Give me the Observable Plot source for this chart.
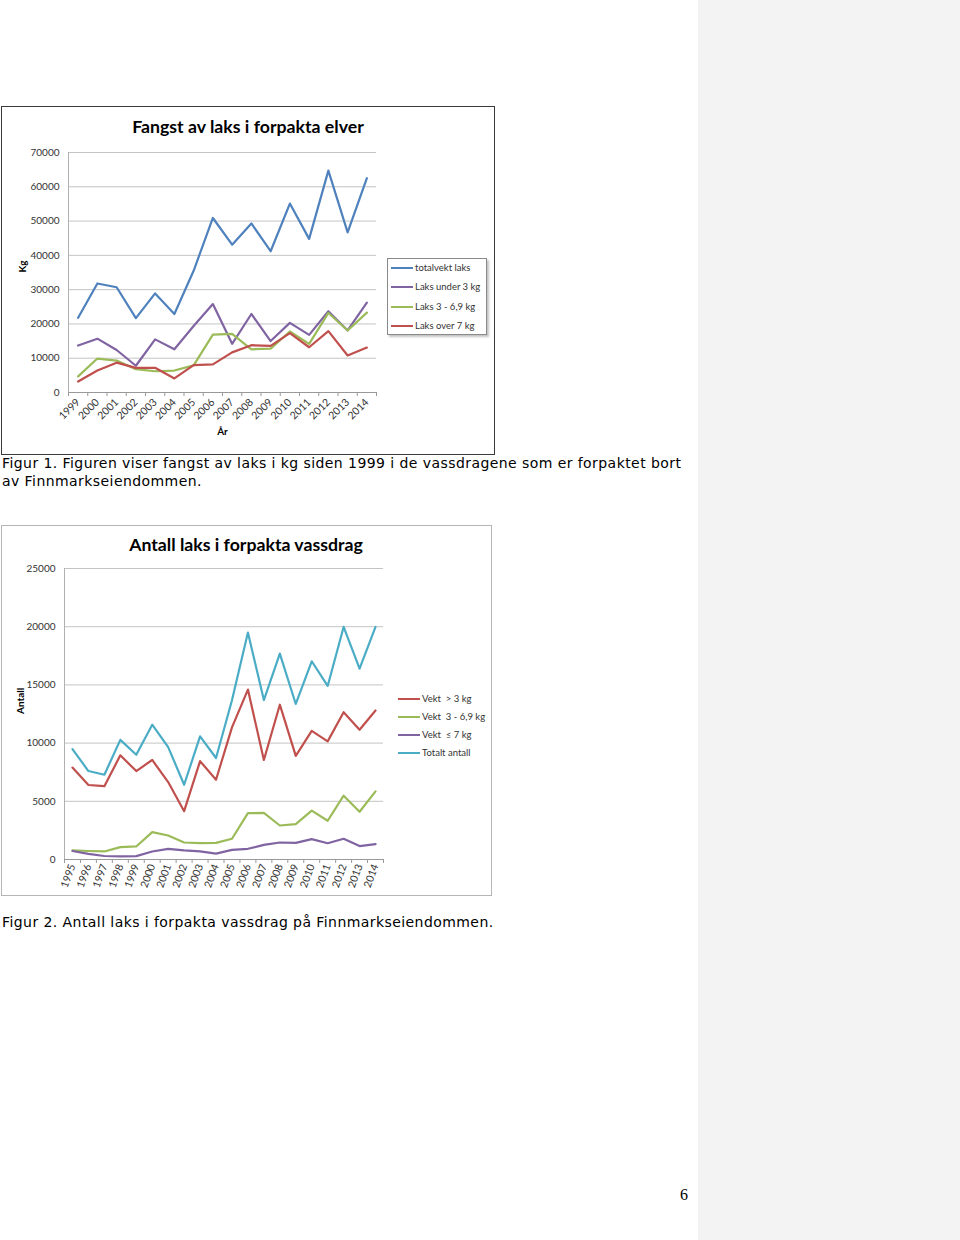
<!DOCTYPE html>
<html><head><meta charset="utf-8">
<script src="https://cdn.jsdelivr.net/npm/d3@7"></script>
<script src="https://cdn.jsdelivr.net/npm/@observablehq/plot@0.6"></script>
<style>
html,body{margin:0;padding:0;background:#fff;}
#page{position:relative;width:960px;height:1240px;overflow:hidden;background:#fff;}
#side{position:absolute;left:698px;top:0;width:262px;height:1240px;background:#f3f3f3;}
.frame{position:absolute;box-sizing:border-box;background:#fff;}
#f1{left:1px;top:106px;width:494px;height:349px;border:1.5px solid #3a3a3a;}
#f2{left:1px;top:525px;width:491px;height:371px;border:1px solid #b5b5b5;}
.ctitle{position:absolute;font-family:Lato,"Open Sans",sans-serif;font-weight:bold;font-size:17.7px;color:#000;white-space:nowrap;transform:translateX(-50%);}
.plot{position:absolute;}
.legend{position:absolute;font-family:Lato,"Open Sans",sans-serif;font-size:9.5px;color:#333;}
.legend .row{position:absolute;white-space:pre;display:flex;align-items:center;}
.legend .sw{display:inline-block;width:22px;height:2px;margin-right:2px;}
#lg1{left:387px;top:258px;width:100px;height:77px;box-sizing:border-box;border:1px solid #8a8a8a;box-shadow:2px 2px 2px #c4c4c4;background:#fff;}
#lg2{left:396px;top:690px;width:92px;height:70px;}
.cap{position:absolute;left:2px;font-family:"DejaVu Sans",Verdana,sans-serif;font-size:14px;letter-spacing:0.43px;color:#000;white-space:nowrap;line-height:17.5px;}
#pgno{position:absolute;left:680px;top:1186px;font-family:"Liberation Serif","DejaVu Serif",serif;font-size:16px;color:#000;}
</style>
</head><body>
<div id="page">
  <div id="side"></div>
  <div class="frame" id="f1"></div>
  <div class="frame" id="f2"></div>
  <div class="ctitle" id="t1" style="left:248px;top:116px;">Fangst av laks i forpakta elver</div>
  <div class="ctitle" id="t2" style="left:246px;top:534px;">Antall laks i forpakta vassdrag</div>
  <div class="plot" id="p1" style="left:2px;top:140px;"></div>
  <div class="plot" id="p2" style="left:2px;top:558px;"></div>
  <div class="legend" id="lg1"></div>
  <div class="legend" id="lg2"></div>
  <div class="cap" style="top:455px;">Figur 1. Figuren viser fangst av laks i kg siden 1999 i de vassdragene som er forpaktet bort<br>av Finnmarkseiendommen.</div>
  <div class="cap" style="top:914px;">Figur 2. Antall laks i forpakta vassdrag på Finnmarkseiendommen.</div>
  <div id="pgno">6</div>
</div>
<script>
// ---- Figur 1 data (kg) ----
const years1 = [1999,2000,2001,2002,2003,2004,2005,2006,2007,2008,2009,2010,2011,2012,2013,2014];
const totalvektLaks = [21800,31800,30700,21700,28900,22900,35500,50900,43100,49300,41200,55100,44800,64700,46700,62500];
const laksUnder3 = [13700,15700,12400,7800,15500,12600,19400,25800,14200,22900,15000,20300,16800,23700,18100,26200];
const laks3til69 = [4700,9900,9300,6800,6200,6400,7900,16900,17100,12600,12800,17800,14200,23200,18100,23300];
const laksOver7 = [3200,6400,8700,7200,7200,4100,8000,8200,11700,13800,13600,17300,13200,17900,10800,13100];
const series1 = ["totalvekt laks","Laks under 3 kg","Laks 3 - 6,9 kg","Laks over 7 kg"];
const colors1 = ["#4F81BD","#8064A2","#9BBB59","#C0504D"];
const yTicks1 = [0,10000,20000,30000,40000,50000,60000,70000];

// ---- Figur 2 data (antall) ----
const years2 = [1995,1996,1997,1998,1999,2000,2001,2002,2003,2004,2005,2006,2007,2008,2009,2010,2011,2012,2013,2014];
const vektOver3 = [7900,6400,6300,8950,7600,8550,6650,4150,8450,6850,11350,14600,8550,13300,8900,11050,10150,12650,11150,12800];
const vekt3til69 = [780,730,690,1060,1120,2350,2060,1460,1400,1430,1780,3980,4000,2920,3040,4200,3330,5480,4100,5850];
const vektMax7 = [730,490,300,260,290,690,920,780,700,500,830,920,1260,1460,1430,1750,1400,1780,1150,1320];
const totaltAntall = [9480,7600,7280,10280,9000,11580,9660,6420,10580,8720,13680,19500,13700,17690,13360,17030,14910,19980,16400,19980];
const series2 = ["Vekt  > 3 kg","Vekt  3 - 6,9 kg","Vekt  \u2264 7 kg","Totalt antall"];
const colors2 = ["#C0504D","#9BBB59","#8064A2","#4BACC6"];
const yTicks2 = [0,5000,10000,15000,20000,25000];

const font = "Lato, 'Open Sans', sans-serif";

function long(arrs, years, names){
  return arrs.flatMap((arr,i)=>arr.map((v,j)=>({year:years[j], value:v, series:names[i]})));
}
function bounds(years){ return years.map(y=>y-0.5).concat([years[years.length-1]+0.5]); }

const data1 = long([totalvektLaks,laksUnder3,laks3til69,laksOver7], years1, series1);
const data2 = long([vektOver3,vekt3til69,vektMax7,totaltAntall], years2, series2);

function chart(o){
  return Plot.plot({
    width:o.width, height:o.height,
    marginLeft:o.ml, marginRight:o.mr, marginTop:o.mt, marginBottom:o.mb,
    style:{fontFamily:font, fontSize:"10px", color:"#333", background:"transparent", overflow:"visible"},
    x:{type:"linear", domain:[o.years[0]-0.5, o.years[o.years.length-1]+0.5]},
    y:{domain:[o.yTicks[0], o.yTicks[o.yTicks.length-1]]},
    color:{domain:o.names, range:o.colors},
    marks:[
      Plot.gridY(o.yTicks.slice(1), {stroke:"#c4c4c4", strokeOpacity:1}),
      Plot.ruleX([o.years[0]-0.5], {stroke:"#b0b0b0"}),
      Plot.axisY({ticks:o.yTicks, tickSize:0, tickPadding:9, tickFormat:d=>String(d), label:null}),
      Plot.axisX({ticks:bounds(o.years), tickSize:4, tickFormat:()=>"", stroke:"#999", label:null}),
      Plot.axisX({ticks:o.years, tickSize:0, tickPadding:o.tp, tickRotate:o.rot, tickFormat:d=>String(d), label:null, fontSize:o.xfs}),
      Plot.ruleY([0], {stroke:"#999"}),
      Plot.lineY(o.data, {x:"year", y:"value", stroke:"series", z:"series", strokeWidth:2.2}),
      Plot.text([o.ylab], {frameAnchor:"left", dx:o.ylabDx, rotate:-90, fontWeight:"bold", fill:"#000"}),
      ...(o.xlab ? [Plot.text([o.xlab], {frameAnchor:"bottom", dy:o.xlabDy, fontWeight:"bold", fill:"#000"})] : [])
    ]
  });
}

document.getElementById("p1").append(chart({
  width:490, height:312, ml:66, mr:116, mt:12, mb:60,
  years:years1, yTicks:yTicks1, names:series1, colors:colors1, data:data1,
  rot:-45, tp:8, xfs:10.5, ylab:"Kg", ylabDx:-46, xlab:"År", xlabDy:42
}));
document.getElementById("p2").append(chart({
  width:487, height:335, ml:62, mr:106, mt:10, mb:34,
  years:years2, yTicks:yTicks2, names:series2, colors:colors2, data:data2,
  rot:-70, tp:5, xfs:10.5, ylab:"Antall", ylabDx:-44, xlab:null
}));

function legend(el, names, colors, rows, x){
  names.forEach((n,i)=>{
    const r = document.createElement("div");
    r.className = "row";
    r.style.left = x + "px";
    r.style.top = (rows[i]-6) + "px";
    const s = document.createElement("span");
    s.className = "sw"; s.style.background = colors[i];
    const t = document.createElement("span");
    t.textContent = n;
    r.append(s, t);
    el.append(r);
  });
}
legend(document.getElementById("lg1"), series1, colors1, [9,28,48,67], 3);
legend(document.getElementById("lg2"), series2, colors2, [9,27,45,63], 2);
</script>
</body></html>
